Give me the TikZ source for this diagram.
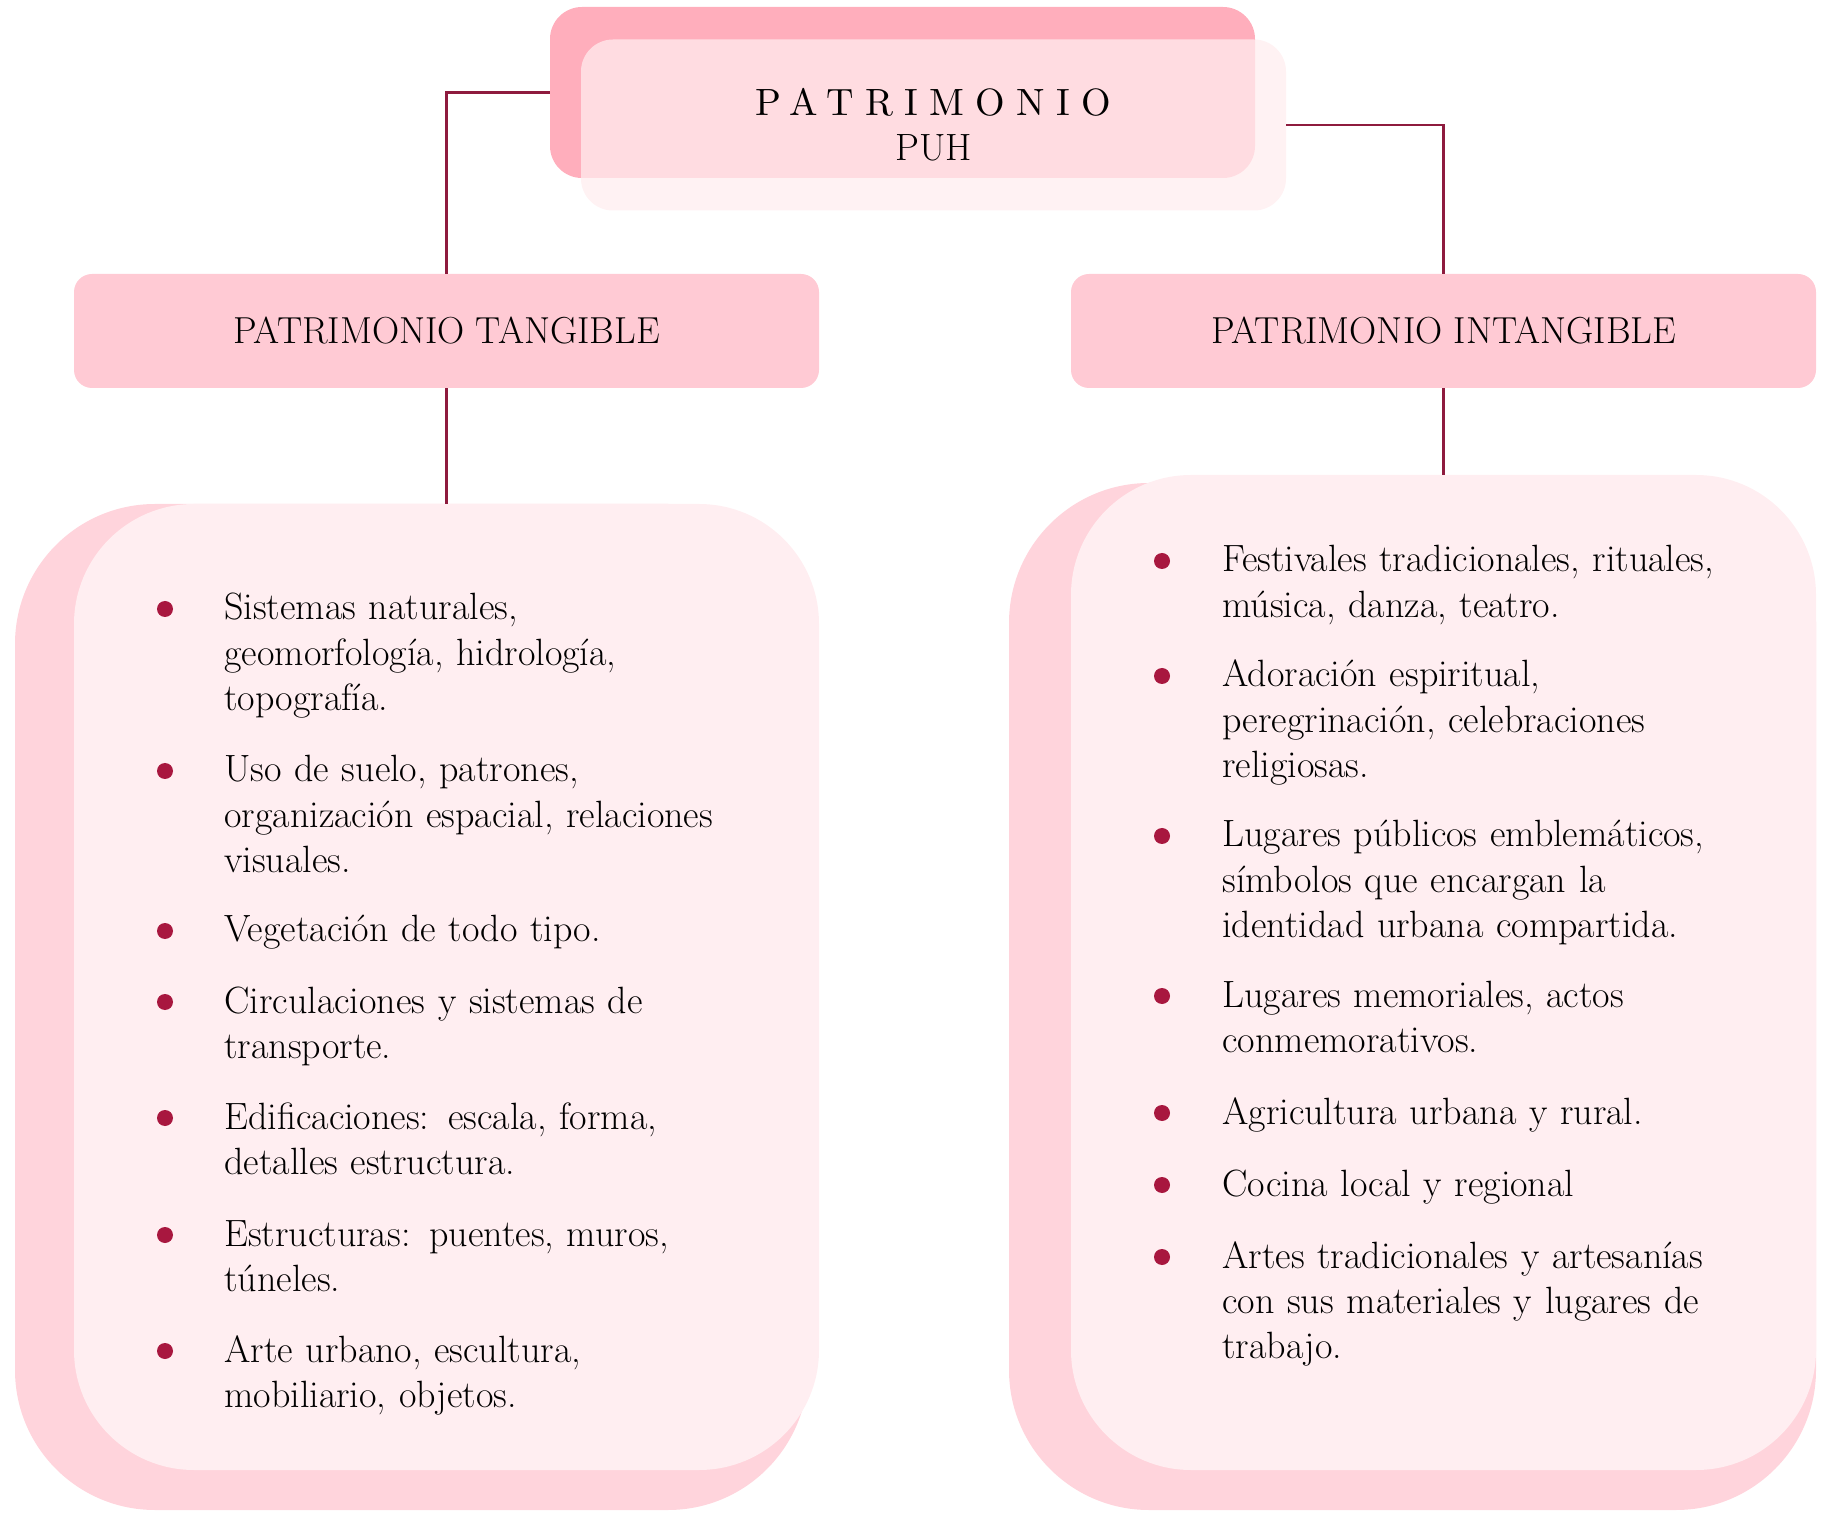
\documentclass[tikz,border=0pt]{standalone}
\usepackage{fontspec}
\newfontfamily\spacedfont[LetterSpace=30]{lmroman10-regular.otf}
\usepackage{tikz}

\definecolor{toppink}{HTML}{FFAEBC}
\definecolor{titlepink}{HTML}{FFEDEF}
\definecolor{catpink}{HTML}{FFCAD4}
\definecolor{backpink}{HTML}{FFD4DC}
\definecolor{listpink}{HTML}{FFEEF1}
\definecolor{linkred}{HTML}{8E1B3E}
\definecolor{dotred}{HTML}{A8173F}

\tikzset{
  topbox/.style={rectangle, rounded corners=16pt, inner sep=0pt,
    minimum width=352.5pt, minimum height=85.5pt},
  catbox/.style={rectangle, rounded corners=9pt, fill=catpink, inner sep=0pt,
    minimum width=372.5pt, minimum height=57pt,
    font=\fontsize{18.8}{22}\selectfont},
  listbox/.style={rectangle, rounded corners=60pt, fill=listpink, inner sep=0pt},
  backbox/.style={rectangle, rounded corners=70pt, fill=backpink, inner sep=0pt},
  link/.style={draw=linkred, line width=1.1pt},
  dot/.style={circle, fill=dotred, inner sep=0pt, minimum size=8pt},
  item/.style={anchor=base west, inner sep=0pt, text width=320pt, align=left,
    font=\fontsize{19}{22.7}\selectfont}
}

\begin{document}
\begin{tikzpicture}[x=0.5pt, y=-0.5pt]
\useasboundingbox (0,0) rectangle (1822,1513);

% top boxes
\node[topbox, fill=toppink] (topback) at (902.5,92.5) {};
\node[topbox, fill=titlepink, fill opacity=0.74, text opacity=1, align=center,
  font=\fontsize{19}{22.5}\selectfont] (title) at (933.5,125)
  {{\spacedfont PATRIMONIO}\\PUH};

% categories
\node[catbox] (tang) at (446.5,331) {PATRIMONIO TANGIBLE};
\node[catbox] (intang) at (1443.5,331) {PATRIMONIO INTANGIBLE};

% list boxes
\node[backbox, minimum width=396.5pt, minimum height=503pt] (tangback) at (411.5,1007) {};
\node[listbox, minimum width=372.5pt, minimum height=483pt] (tanglist) at (446.5,987) {};
\node[backbox, minimum width=403.5pt, minimum height=513.5pt] (intangback) at (1412.5,996.5) {};
\node[listbox, minimum width=372.5pt, minimum height=497.5pt] (intanglist) at (1443.5,972.5) {};

% connectors
\draw[link] (topback.west) -| (tang.north);
\draw[link] (title.east) -| (intang.north);
\draw[link] (tang.south) -- (tanglist.north);
\draw[link] (intang.south) -- (intanglist.north);

% left items
\foreach \y/\txt [count=\i] in {
  620/{Sistemas naturales,\\ geomorfología, hidrología,\\ topografía.},
  782/{Uso de suelo, patrones,\\ organización espacial, relaciones\\ visuales.},
  942/{Vegetación de todo tipo.},
  1013/{Circulaciones y sistemas de\\ transporte.},
  1129/{Edificaciones: escala, forma,\\ detalles estructura.},
  1246/{Estructuras: puentes, muros,\\ túneles.},
  1362/{Arte urbano, escultura,\\ mobiliario, objetos.}}
{
  \node[dot] (ldot\i) at (165,\y-11) {};
  \node[item] (litem\i) at (224,\y) {\txt};
}

% right items
\foreach \y/\txt [count=\i] in {
  572/{Festivales tradicionales, rituales,\\ música, danza, teatro.},
  687/{Adoración espiritual,\\ peregrinación, celebraciones\\ religiosas.},
  847/{Lugares públicos emblemáticos,\\ símbolos que encargan la\\ identidad urbana compartida.},
  1007/{Lugares memoriales, actos\\ conmemorativos.},
  1124/{Agricultura urbana y rural.},
  1196/{Cocina local y regional},
  1268/{Artes tradicionales y artesanías\\ con sus materiales y lugares de\\ trabajo.}}
{
  \node[dot] (rdot\i) at (1162,\y-11) {};
  \node[item] (ritem\i) at (1222,\y) {\txt};
}
\end{tikzpicture}
\end{document}
